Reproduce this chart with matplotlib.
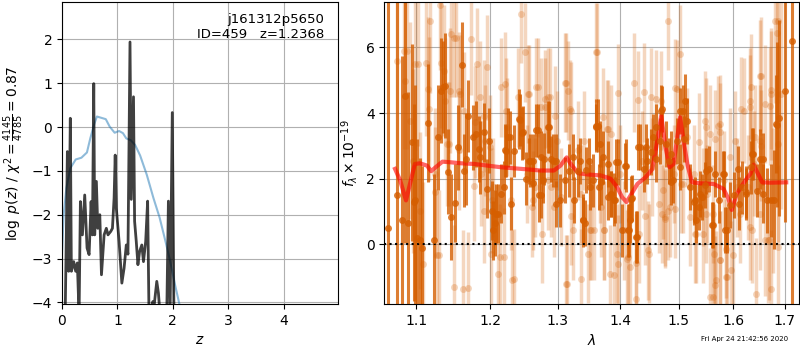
import matplotlib
matplotlib.use('Agg')
import matplotlib.pyplot as plt
from matplotlib.ticker import ScalarFormatter, NullLocator

# p(z) panel
z_fit = [0.0, 0.03, 0.078, 0.15, 0.247, 0.35, 0.45, 0.51, 0.58, 0.63, 0.71, 0.79,
         0.86, 0.95, 1.03, 1.10, 1.16, 1.24, 1.32, 1.41, 1.53, 1.65, 1.76, 1.86,
         1.95, 2.04, 2.12]
logp_fit = [-2.91, -2.0, -1.40, -0.94, -0.74, -0.70, -0.58, -0.26, 0.06, 0.24, 0.21, 0.18,
            0.01, -0.13, -0.09, -0.14, -0.26, -0.30, -0.41, -0.65, -1.09, -1.62, -2.06, -2.57,
            -3.05, -3.60, -4.05]

z_chi = [0.06, 0.078, 0.097, 0.12, 0.15, 0.169, 0.211, 0.247, 0.277, 0.308, 0.332, 0.368,
         0.41, 0.452, 0.489, 0.525, 0.549, 0.573, 0.59, 0.62, 0.646, 0.682, 0.712, 0.76,
         0.80, 0.83, 0.88, 0.91, 0.94, 0.96, 0.98, 1.03, 1.08, 1.12, 1.16, 1.19,
         1.227, 1.25, 1.29, 1.31, 1.34, 1.37, 1.40, 1.44, 1.47, 1.51, 1.545, 1.57,
         1.64, 1.66, 1.71, 1.74, 1.77, 1.89, 1.92, 1.95, 1.99, 2.02, 2.05]
logp_chi = [-4.05, -2.46, -0.56, -3.29, 0.20, -3.29, -3.07, -3.29, -3.10, -4.3, -1.70, -2.46,
            -1.55, -2.76, -2.91, -1.70, -2.46, 0.99, -2.46, -1.24, -2.31, -2.00, -3.37, -2.46,
            -2.31, -2.46, -2.38, -2.31, -1.62, -0.64, -1.85, -2.61, -3.56, -3.22, -2.69, -2.9,
            1.94, -1.65, 0.69, -2.15, -2.61, -3.14, -2.84, -2.69, -3.07, -2.61, -1.69, -4.3,
            -3.98, -4.1, -3.52, -3.79, -4.3, -4.3, -1.69, -4.3, 0.33, -4.3, -4.3]

# spectrum panel: binned (dark) points
lam_bin = [1.064, 1.075, 1.081, 1.085, 1.089, 1.094, 1.098, 1.104, 1.107, 1.115, 1.123, 1.128,
           1.132, 1.135, 1.138, 1.142, 1.146, 1.151, 1.156, 1.161, 1.163, 1.169, 1.176, 1.180,
           1.185, 1.191, 1.196, 1.203, 1.207, 1.211, 1.215, 1.220, 1.223, 1.228, 1.235, 1.244,
           1.248, 1.252, 1.257, 1.262, 1.270, 1.275, 1.279, 1.287, 1.290, 1.297, 1.304, 1.311,
           1.318, 1.326, 1.332, 1.339, 1.343, 1.349, 1.355, 1.360, 1.365, 1.371, 1.379, 1.385,
           1.390, 1.396, 1.403, 1.409, 1.414, 1.420, 1.427, 1.433, 1.440, 1.445, 1.452, 1.460,
           1.467, 1.471, 1.477, 1.482, 1.490, 1.497, 1.502, 1.509, 1.515, 1.521, 1.528, 1.536,
           1.542, 1.548, 1.554, 1.560, 1.566, 1.573, 1.582, 1.588, 1.594, 1.601, 1.610, 1.616,
           1.625, 1.633, 1.638, 1.645, 1.651, 1.658, 1.665, 1.672, 1.679, 1.685, 1.689, 1.700,
           1.716,
           1.0965, 1.1002, 1.1670, 1.1864, 1.1982,
           1.2091, 1.2258, 1.2210, 1.2418, 1.2468, 1.2576, 1.2675, 1.2752, 1.2852, 1.2776,
           1.2928, 1.2980, 1.2715, 1.2625, 1.2307, 1.2042, 1.3394, 1.3500, 1.3596, 1.3447,
           1.3237, 1.3342,
           1.4695, 1.4550, 1.4437, 1.4293, 1.4608, 1.5104, 1.5075, 1.4869, 1.4859, 1.5016,
           1.3851, 1.3905, 1.3796, 1.3634, 1.3662, 1.3933, 1.4070, 1.4126, 1.4266, 1.4182,
           1.4154, 1.3689, 1.5285, 1.5311, 1.5376,
           1.5498, 1.5804, 1.6087, 1.6364, 1.6570, 1.6834, 1.5613, 1.5852, 1.6248]
flux_bin = [0.51, 1.49, 0.75, 4.53, 0.65, 3.11, 1.36, 0.14, -0.10, 3.69, 0.14, 3.26,
            4.68, 4.80, 4.83, 2.22, 0.83, 1.26, 2.96, 5.47, 2.25, 3.92, 3.26, 3.36,
            2.91, 3.41, 1.69, 1.03, 0.65, 0.93, 1.54, 1.74, 2.84, 3.26, 2.84, 3.79,
            3.41, 2.00, 2.55, 2.55, 3.47, 1.49, 2.60, 3.57, 2.60, 2.55, 1.34, 1.95,
            2.25, 1.34, 2.25, 0.73, 0.65, 2.55, 1.95, 3.59, 1.74, 2.65, 1.44, 1.54,
            1.36, 2.50, 0.43, 2.40, 0.43, 1.42, 0.22, 2.96, 2.31, 2.55, 2.80, 2.60,
            3.16, 4.12, 3.06, 2.55, 1.95, 3.16, 4.07, 3.21, 3.75, 1.74, 1.29, 1.14,
            1.44, 1.80, 2.31, 0.58, 2.15, 1.34, 2.13, 0.43, 1.19, 1.49, 1.24, 1.74,
            1.59, 2.35, 2.76, 1.64, 2.60, 1.54, 1.34, 1.34, 1.36, 3.65, 3.85, 4.68,
            6.20,
            1.28, 0.20, 2.61, 2.65, 3.16,
            0.93, 3.26, 2.86, 3.82, 3.38, 2.55, 3.47, 2.65, 3.57, 1.95,
            2.55, 1.24, 1.49, 1.86, 1.24, 0.43, 0.73, 1.74, 3.62, 2.27,
            2.65, 2.55,
            4.07, 3.26, 2.96, 2.96, 3.57, 4.38, 4.07, 2.76, 1.89, 2.35,
            1.54, 1.34, 2.45, 3.62, 3.06, 2.50, 2.40, 0.43, 0.22, 1.39,
            0.73, 1.89, 1.34, 0.73, 1.54,
            2.25, 2.13, 2.30, 2.76, 2.60, 3.67, 0.58, 0.43, 1.54]
err_bin = [8.0, 6.0, 5.0, 4.5, 4.0, 3.0, 3.5, 2.5, 2.5, 1.8, 2.0, 1.6,
           1.6, 1.4, 1.6, 1.3, 1.3, 1.2, 1.3, 1.3, 1.1, 1.1, 1.0, 1.0,
           1.0, 0.9, 0.9, 0.9, 1.0, 0.9, 0.9, 0.8, 0.8, 0.8, 0.8, 0.8,
           0.8, 0.8, 0.7, 0.8, 0.8, 0.7, 0.8, 0.8, 0.7, 0.8, 0.8, 0.7,
           0.8, 0.7, 0.8, 0.8, 0.7, 0.7, 0.8, 0.7, 0.7, 0.8, 0.7, 0.7,
           0.8, 0.7, 0.8, 0.8, 0.8, 0.7, 0.8, 0.7, 0.7, 0.7, 0.7, 0.7,
           0.7, 0.7, 0.7, 0.7, 0.7, 0.7, 0.7, 0.7, 0.7, 0.7, 0.7, 0.7,
           0.7, 0.7, 0.7, 0.7, 0.7, 0.7, 0.7, 0.7, 0.7, 0.7, 0.8, 0.8,
           0.8, 0.8, 0.8, 0.8, 0.9, 0.9, 1.0, 1.1, 1.5, 2.5, 3.0, 4.0,
           10.0,
           3.0, 3.0, 1.4, 1.1, 1.0,
           0.9, 0.9, 0.8, 0.9, 0.8, 0.8, 0.8, 0.8, 0.8, 0.7,
           0.8, 0.7, 0.8, 0.7, 0.8, 0.9, 0.7, 0.7, 0.8, 0.7,
           0.7, 0.7,
           0.8, 0.7, 0.7, 0.7, 0.7, 0.8, 0.8, 0.7, 0.7, 0.7,
           0.7, 0.7, 0.7, 0.8, 0.7, 0.7, 0.7, 0.8, 0.8, 0.7,
           0.7, 0.7, 0.7, 0.7, 0.7,
           0.7, 0.7, 0.7, 0.8, 0.8, 1.5, 0.7, 0.7, 0.8]

# spectrum panel: individual (light) points
lam_raw = [1.0755, 1.0873, 1.0916, 1.0958, 1.1023, 1.1083, 1.1147, 1.1184, 1.1239, 1.1298,
           1.1321, 1.1367, 1.1404, 1.1459, 1.1496, 1.1528, 1.1574, 1.1620, 1.1698, 1.1734,
           1.1789, 1.1817, 1.1872, 1.1917, 1.1963, 1.2010, 1.2049, 1.2108, 1.2157, 1.2196,
           1.2245, 1.2304, 1.2343, 1.2402, 1.2451, 1.2500, 1.2539, 1.2573, 1.2608, 1.2657,
           1.2696, 1.2755, 1.2804, 1.2853, 1.2902, 1.2941, 1.2990, 1.3053, 1.3106, 1.3149,
           1.3202, 1.3245, 1.3309, 1.3362, 1.3415, 1.3468, 1.3521, 1.3575, 1.3617, 1.3670,
           1.3734, 1.3787, 1.3851, 1.3894, 1.3947, 1.4000, 1.4057, 1.4102, 1.4159, 1.4227,
           1.4256, 1.4312, 1.4369, 1.4409, 1.4483, 1.4540, 1.4597, 1.4653, 1.4710, 1.4767,
           1.4807, 1.4852, 1.4909, 1.4966, 1.5024, 1.5073, 1.5146, 1.5207, 1.5268, 1.5317,
           1.5360, 1.5439, 1.5500, 1.5573, 1.5622, 1.5683, 1.5744, 1.5756, 1.5817, 1.5878,
           1.5939, 1.6000, 1.6065, 1.6131, 1.6209, 1.6275, 1.6327, 1.6392, 1.6445, 1.6510,
           1.6537, 1.6602, 1.6667, 1.6720, 1.6772, 1.6818, 1.6864, 1.6929,
           1.0836, 1.0858, 1.0987, 1.1052, 1.1131, 1.1161, 1.1250, 1.1271, 1.1317, 1.1384,
           1.1428, 1.1451, 1.1496, 1.1564, 1.1587, 1.1632, 1.1770, 1.1854, 1.1910, 1.1935,
           1.2006, 1.2028,
           1.2210, 1.2225, 1.2139, 1.2322, 1.2551, 1.2675, 1.2752, 1.2802, 1.2877, 1.2852,
           1.2954, 1.3123, 1.3159, 1.3185, 1.3211, 1.3123, 1.3368, 1.3500, 1.3596, 1.2625,
           1.4395, 1.4293, 1.4522, 1.4695, 1.4927, 1.3960, 1.3796, 1.3715, 1.3823, 1.3960,
           1.4126, 1.4266, 1.4465, 1.4752, 1.4810, 1.4927, 1.4722, 1.5046, 1.5285, 1.3730,
           1.3689,
           1.6506, 1.6344, 1.6735, 1.6711, 1.6866, 1.6840, 1.6153, 1.6312, 1.5711, 1.5467,
           1.5743, 1.5650, 1.5558, 1.6025, 1.6408, 1.6539, 1.5743, 1.5639, 1.5868, 1.5868,
           1.5962, 1.5613, 1.5650, 1.6735, 1.6866, 1.6686, 1.6608, 1.6312, 1.6365, 1.6506,
           1.5440, 1.5493, 1.5519]
flux_raw = [5.59, 5.90, 3.77, 2.55, 5.49, -0.59, 4.73, 6.81, 2.15, -0.33,
            5.54, 5.29, 3.06, 6.40, -1.30, 6.30, 4.68, -1.35, -1.32, 6.25,
            3.72, 5.49, 2.15, 1.03, 5.39, -0.28, 1.74, -0.89, 4.78, -0.38,
            3.57, 1.34, -1.04, 4.48, 7.03, 5.85, 2.15, 4.58, 1.13, 1.74,
            4.78, 0.32, 4.17, 4.48, 1.74, 1.13, 3.16, 1.44, 4.93, -1.22,
            4.07, 0.43, 2.86, 1.54, 3.16, -0.28, 0.43, 0.43, 5.85, 2.15,
            0.43, 3.52, 3.36, -0.94, -0.28, 2.15, 0.43, -0.44, -0.69, 4.93,
            -1.65, 0.32, 2.55, 0.88, -0.28, 2.35, 4.43, 1.24, 0.93, 0.78,
            6.81, 1.13, 2.15, 4.73, 5.80, 1.84, 3.26, 0.83, 2.15, 0.32,
            3.11, 1.44, 3.57, -1.60, 0.93, -1.09, -0.49, 3.67, 1.95, -0.99,
            2.65, -0.33, 1.74, 0.93, 4.07, 1.74, 4.38, 2.45, -1.50, 3.16,
            5.14, 4.28, 0.12, 4.58, 1.34, 6.81, 3.06, 4.58,
            5.90, 4.98, 5.49, 1.03, 5.51, 4.13, 1.59, -0.33, 7.30, 4.38,
            3.06, 4.68, 6.30, 2.86, 4.58, 4.07, 1.79, 4.48, 3.92, 3.16,
            2.96, 1.34,
            4.88, 4.07, -0.38, -1.07, 4.58, 4.80, 4.17, 4.43, 4.48, 1.95,
            3.92, 4.93, 4.68, 4.12, 0.88, -1.22, -1.04, 0.43, 5.85, 1.34,
            4.63, 4.40, 4.48, 4.38, 4.76, 4.60, 3.52, 3.87, -0.91, -0.59,
            -0.39, -0.57, -0.18, 0.83, 1.03, 1.08, 1.67, 1.84, 0.32, 0.43,
            1.13,
            5.14, 4.80, 4.70, 4.22, 6.81, 6.44, 4.12, 4.17, 3.62, 3.77,
            3.41, 3.21, 3.36, 3.16, 3.26, 3.01, -0.49, -0.28, -0.13, -0.99,
            -0.79, -1.60, -1.25, -1.35, -0.08, 0.12, 0.12, 0.53, 0.43, 0.93,
            0.32, 0.93, 1.54]
err_raw = [3.5, 3.0, 3.0, 2.8, 2.5, 2.5, 2.2, 2.2, 2.0, 2.0,
           2.0, 2.0, 1.9, 1.9, 1.9, 1.8, 1.8, 1.8, 1.7, 1.7,
           1.7, 1.7, 1.6, 1.6, 1.6, 1.6, 1.5, 1.5, 1.5, 1.5,
           1.5, 1.5, 1.5, 1.5, 1.5, 1.5, 1.5, 1.5, 1.5, 1.5,
           1.5, 1.5, 1.5, 1.5, 1.5, 1.5, 1.5, 1.5, 1.5, 1.5,
           1.5, 1.5, 1.5, 1.5, 1.5, 1.5, 1.5, 1.5, 1.5, 1.5,
           1.5, 1.5, 1.5, 1.5, 1.5, 1.5, 1.5, 1.5, 1.5, 1.5,
           1.5, 1.5, 1.5, 1.5, 1.5, 1.5, 1.5, 1.5, 1.5, 1.5,
           1.5, 1.5, 1.5, 1.5, 1.5, 1.5, 1.5, 1.5, 1.5, 1.5,
           1.5, 1.5, 1.5, 1.5, 1.5, 1.5, 1.5, 1.5, 1.5, 1.5,
           1.5, 1.5, 1.5, 1.5, 1.6, 1.6, 1.6, 1.6, 1.7, 1.7,
           1.8, 1.8, 1.9, 2.0, 2.2, 2.5, 3.0, 3.5,
           3.0, 3.0, 2.6, 2.4, 2.2, 2.2, 2.0, 2.0, 2.0, 1.9,
           1.9, 1.9, 1.8, 1.8, 1.8, 1.8, 1.7, 1.7, 1.7, 1.7,
           1.6, 1.6,
           1.6, 1.6, 1.6, 1.5, 1.5, 1.5, 1.5, 1.5, 1.5, 1.5,
           1.5, 1.5, 1.5, 1.5, 1.5, 1.5, 1.5, 1.5, 1.5, 1.5,
           1.5, 1.5, 1.5, 1.5, 1.5, 1.5, 1.5, 1.5, 1.5, 1.5,
           1.5, 1.5, 1.5, 1.5, 1.5, 1.5, 1.5, 1.5, 1.5, 1.5,
           1.5,
           1.7, 1.6, 1.8, 1.8, 2.5, 2.4, 1.6, 1.6, 1.5, 1.5,
           1.5, 1.5, 1.5, 1.5, 1.6, 1.7, 1.5, 1.5, 1.5, 1.5,
           1.5, 1.5, 1.5, 1.8, 2.5, 1.8, 1.7, 1.6, 1.6, 1.7,
           1.5, 1.5, 1.5]

# best-fit model
lam_model = [1.0725, 1.079, 1.0865, 1.0916, 1.0979, 1.1046, 1.1138, 1.1193, 1.1252, 1.1344,
             1.1459, 1.1597, 1.1780, 1.1963, 1.2157, 1.2451, 1.2745, 1.2941, 1.3043, 1.3138,
             1.3202, 1.3319, 1.3468, 1.3681, 1.3840, 1.3947, 1.4028, 1.4102, 1.4170, 1.4284,
             1.4426, 1.4540, 1.4625, 1.4693, 1.4767, 1.4841, 1.4909, 1.4966, 1.5024, 1.5085,
             1.5159, 1.5238, 1.5390, 1.5634, 1.5817, 1.5908, 1.5970, 1.6065, 1.6229, 1.6327,
             1.6392, 1.6458, 1.6556, 1.6720, 1.7033]
flux_model = [2.30, 1.95, 1.34, 1.84, 2.45, 2.47, 2.40, 2.23, 2.35, 2.52,
              2.50, 2.47, 2.45, 2.40, 2.35, 2.30, 2.25, 2.25, 2.40, 2.65,
              2.45, 2.17, 2.13, 2.10, 2.00, 1.74, 1.44, 1.29, 1.49, 1.84,
              2.05, 2.30, 3.16, 3.92, 2.96, 2.35, 2.45, 3.16, 3.87, 3.16,
              2.40, 1.89, 1.86, 1.84, 1.69, 1.39, 1.05, 1.54, 1.95, 2.15,
              2.43, 2.20, 1.89, 1.88, 1.89]

g141 = (0.835, 0.369, 0.0)

fig = plt.figure(figsize=(8, 3.5), dpi=100)

ax = fig.add_axes([0.0775, 0.131, 0.345, 0.863])
ax.plot(z_fit, logp_fit, color='#1f77b4', alpha=0.5, lw=1.5)
ax.plot(z_chi, logp_chi, color='k', alpha=0.75, lw=2)
ax.set_xlim(0, 4.98)
ax.set_ylim(-4.04, 2.85)
ax.set_xticks([0, 1, 2, 3, 4])
ax.set_yticks([-4, -3, -2, -1, 0, 1, 2])
ax.grid()
ax.set_xlabel(r'$z$')
ax.set_ylabel(r'$\log\ p(z)$ / $\chi^2=\frac{4145}{4785}=0.87$')
ax.text(0.95, 0.965, 'j161312p5650\nID=459   z=1.2368', transform=ax.transAxes,
        ha='right', va='top', fontsize=9.5)

ax2 = fig.add_axes([0.4804, 0.131, 0.5188, 0.863])
ax2.errorbar(lam_raw, flux_raw, err_raw, fmt='o', color=g141, alpha=0.25,
             ms=5, elinewidth=2.5, capsize=0, mew=0)
ax2.errorbar(lam_bin, flux_bin, err_bin, fmt='o', color=g141, alpha=0.8,
             ms=5, elinewidth=2.2, capsize=0, mew=0)
ax2.plot(lam_model, flux_model, color='r', alpha=0.6, lw=3)
ax2.axhline(0, color='k', ls=':', lw=1.5)
ax2.set_xscale('log')
ax2.set_xlim(1.059, 1.730)
ax2.set_ylim(-1.82, 7.38)
ax2.set_xticks([1.1, 1.2, 1.3, 1.4, 1.5, 1.6, 1.7])
ax2.xaxis.set_major_formatter(ScalarFormatter())
ax2.xaxis.set_minor_locator(NullLocator())
ax2.set_yticks([0, 2, 4, 6])
ax2.grid()
ax2.set_xlabel(r'$\lambda$')
ax2.set_ylabel(r'$f_\lambda\times10^{-19}$')

fig.text(0.985, 0.031, 'Fri Apr 24 21:42:56 2020', ha='right', va='center', fontsize=5)

fig.savefig('out.png', dpi=100)
